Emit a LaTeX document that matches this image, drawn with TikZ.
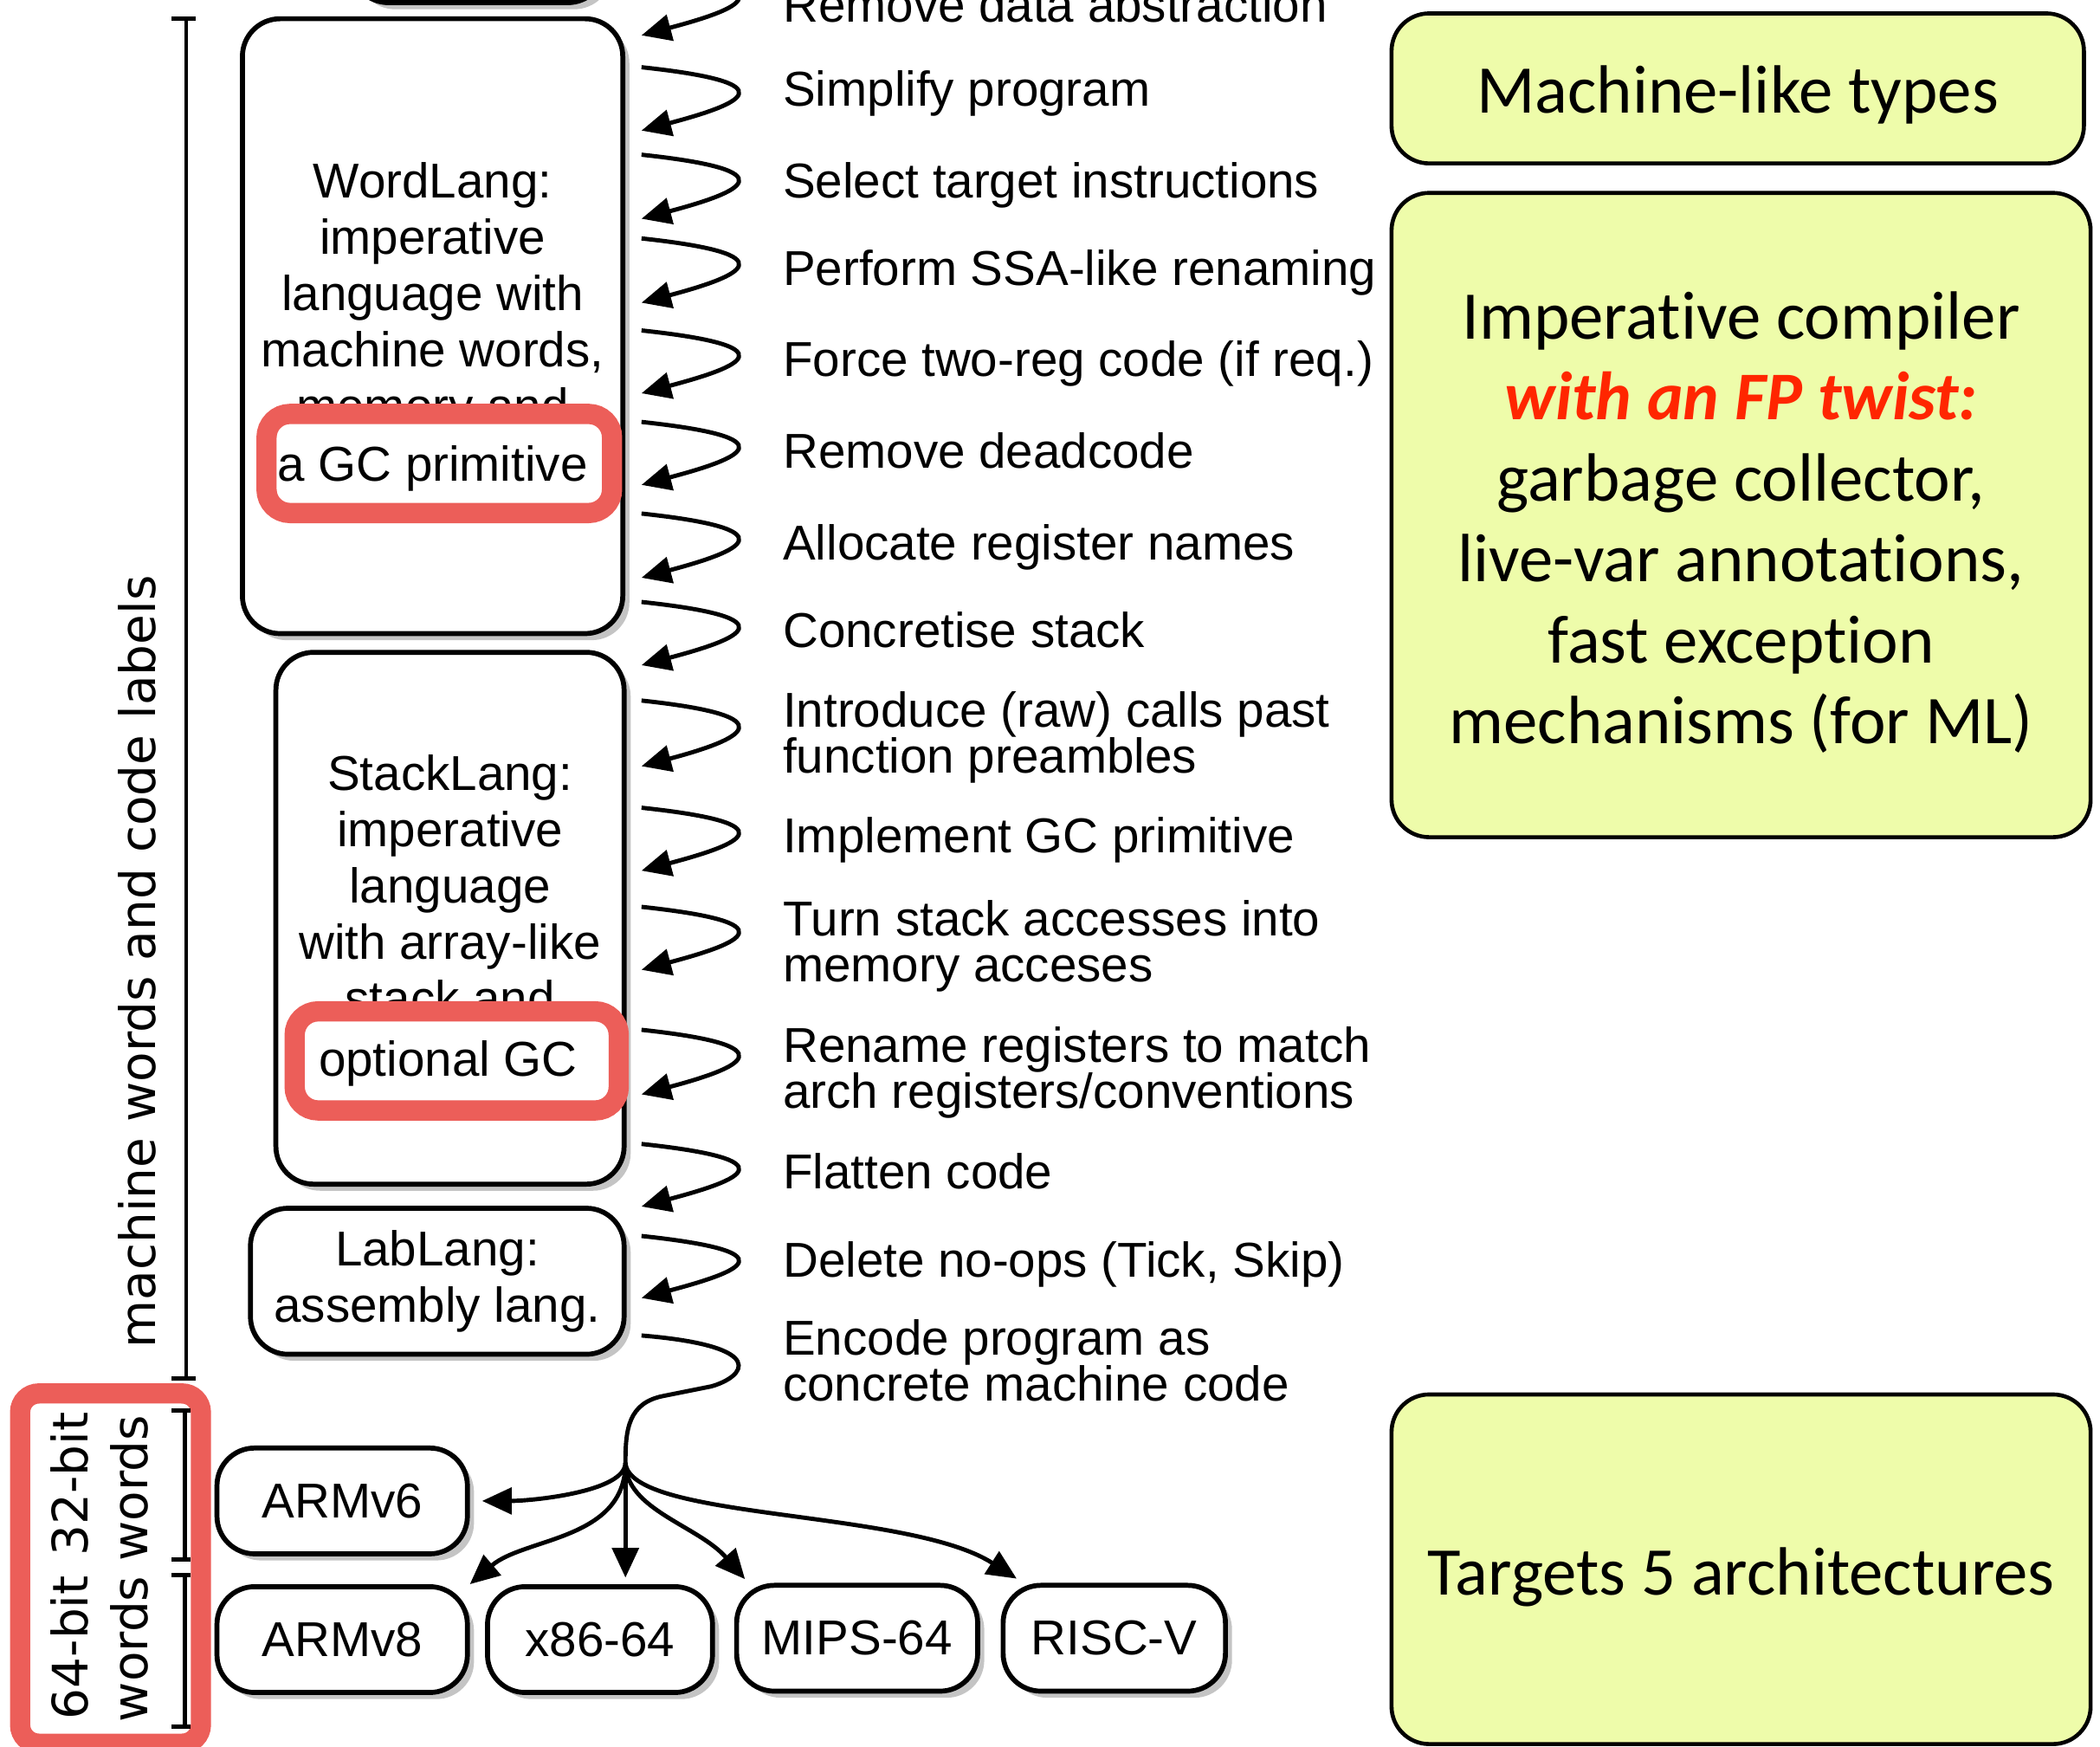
\documentclass[tikz,border=0pt]{standalone}
\usepackage{fontspec}
\setmainfont{Liberation Sans}
\newfontfamily\notefont[Ligatures=NoCommon,RawFeature=-liga]{Carlito}
\newfontfamily\sidefont{DejaVu Sans}
\usetikzlibrary{arrows.meta,shadows}

\definecolor{hilite}{RGB}{236,94,89}
\definecolor{notefill}{RGB}{238,252,170}
\definecolor{twist}{RGB}{255,38,0}
\definecolor{shade}{RGB}{196,196,196}

% two-line pass description, baseline on the first line
\newcommand{\passtwo}[2]{\vtop{\baselineskip=9.76pt\lineskiplimit=-20pt\hbox{#1}\hbox{#2}}}

\begin{document}
\begin{tikzpicture}[x=0.1mm,y=-0.1mm,
  lang/.style={draw,line width=1.05pt,rounded corners=8pt,fill=white,inner sep=0pt,
    align=center,font=\fontsize{10.4}{11.95}\selectfont,
    drop shadow={shadow xshift=1.4pt,shadow yshift=-1.4pt,fill=shade,opacity=1}},
  arch/.style={lang,minimum height=7.9mm},
  hl/.style={draw=hilite,line width=4.3pt,rounded corners=5pt,fill=white,inner sep=0pt},
  boxtext/.style={inner sep=0pt,anchor=base,font=\fontsize{10.4}{11.95}\selectfont},
  note/.style={draw,line width=0.85pt,rounded corners=8pt,fill=notefill,inner sep=0pt},
  notetext/.style={inner sep=0pt,align=center,font=\notefont\fontsize{14.5}{17.2}\selectfont},
  pass/.style={anchor=base west,inner sep=0pt,font=\fontsize{10.4}{9.76}\selectfont},
  side/.style={rotate=90,anchor=base,inner sep=0pt,font=\sidefont\fontsize{10.4}{12.6}\selectfont},
  flow/.style={line width=0.9pt,-{Triangle[length=6.3pt,width=5.6pt]}},
  bracket/.style={line width=0.85pt}]

\useasboundingbox (0,0) rectangle (1568,1304);
\clip (0,0) rectangle (1568,1304);

% intermediate languages
\node[lang,minimum width=19mm,minimum height=8mm] (prevlang) at (357,-38) {};
\node[lang,minimum width=28.4mm,minimum height=45.9mm] (wordlang) at (323,243.5)
  {WordLang:\\imperative\\language with\\machine words,\\memory and\\\phantom{a GC primitive}};
\node[lang,minimum width=26mm,minimum height=39.7mm] (stacklang) at (336,685.5)
  {StackLang:\\imperative\\language\\with array-like\\stack and\\\phantom{optional GC}};
\node[lang,minimum width=27.9mm,minimum height=10.9mm] (lablang) at (326.5,956.5)
  {LabLang:\\assembly lang.};

% highlighted GC features
\node[hl,minimum width=25.8mm,minimum height=7.4mm] (gcbox) at (328,346) {};
\node[boxtext] (gctext) at (323,358.9) {a GC primitive};
\node[hl,minimum width=24.2mm,minimum height=7.4mm] (optbox) at (341,792) {};
\node[boxtext] (opttext) at (334.5,803.4) {optional GC};

% word-size annotations on the left
\node[hl,rounded corners=4pt,minimum width=13.5mm,minimum height=26.15mm] (wsize) at (82.5,1171) {};
\draw[bracket] (128,14) -- (146,14) (139,14) -- (139,1029) (128,1029) -- (146,1029);
\draw[bracket] (128,1053) -- (142,1053) (138,1053) -- (138,1164) (128,1164) -- (142,1164);
\draw[bracket] (128,1176) -- (142,1176) (138,1176) -- (138,1289) (128,1289) -- (142,1289);
\node[side] (mwlabel) at (116,718) {machine words and code labels};
\node[side] (w32a) at (65.7,1108) {32-bit};
\node[side] (w32b) at (110,1111) {words};
\node[side] (w64a) at (65.7,1230) {64-bit};
\node[side] (w64b) at (110,1231) {words};

% target architectures
\node[arch,minimum width=18.7mm] (armv6) at (255.5,1120.5) {ARMv6};
\node[arch,minimum width=18.7mm] (armv8) at (255.5,1224) {ARMv8};
\node[arch,minimum width=16.8mm] (x86) at (448,1224) {x86-64};
\node[arch,minimum width=18mm] (mips) at (640,1223) {MIPS-64};
\node[arch,minimum width=16.6mm] (riscv) at (832,1223) {RISC-V};

% summary notes
\node[note,minimum width=51.7mm,minimum height=11.2mm] (mlbox) at (1297.5,66) {};
\node[notetext,anchor=base] (mltext) at (1297.5,84.5) {Machine-like types};
\node[note,minimum width=52.2mm,minimum height=48.1mm] (impbox) at (1300,384.5) {};
\node[notetext] (imptext) at (1300,390) {Imperative compiler\\
  {\color{twist}\bfseries\itshape with an FP twist:}\\
  garbage collector,\\live-var annotations,\\fast exception\\mechanisms (for ML)};
\node[note,minimum width=52.2mm,minimum height=26.1mm] (tgtbox) at (1300,1171.5) {};
\node[notetext,anchor=base] (tgttext) at (1300,1190.8) {Targets 5 architectures};

% compiler passes
\node[pass] (pass1) at (584,16.5) {Remove data abstraction};
\node[pass] (pass2) at (584,79.2) {Simplify program};
\node[pass] (pass3) at (584,147.5) {Select target instructions};
\node[pass] (pass4) at (584,212.8) {Perform SSA-like renaming};
\node[pass] (pass5) at (584,281) {Force two-reg code (if req.)};
\node[pass] (pass6) at (584,349.7) {Remove deadcode};
\node[pass] (pass7) at (584,418) {Allocate register names};
\node[pass] (pass8) at (584,483.3) {Concretise stack};
\node[pass] (pass9) at (584,542.5) {\passtwo{Introduce (raw) calls past}{function preambles}};
\node[pass] (pass10) at (584,636.3) {Implement GC primitive};
\node[pass] (pass11) at (584,698.4) {\passtwo{Turn stack accesses into}{memory acceses}};
\node[pass] (pass12) at (584,793) {\passtwo{Rename registers to match}{arch registers/conventions}};
\node[pass] (pass13) at (584,887.7) {Flatten code};
\node[pass] (pass14) at (584,953.4) {Delete no-ops (Tick, Skip)};
\node[pass] (pass15) at (584,1011.3) {\passtwo{Encode program as}{concrete machine code}};

% one curly arrow per pass
\foreach \i/\ya/\yb in {1/-21/26.4, 2/50.2/97.5, 3/115.5/163.3, 4/178/226,
    5/246.7/293.6, 6/315/362, 7/383.4/431.3, 8/449.4/496.6, 9/523/572,
    10/603/650, 11/677/724, 12/768.8/817, 13/854/900.7, 14/922.7/969} {
  \coordinate (in\i) at (479,\ya);
  \coordinate (out\i) at (479,\yb);
  \draw[flow] (in\i) .. controls +(112,12) and +(75,-20) .. (out\i);
}

% final pass fans out to the targets
\coordinate (in15) at (479,997);
\coordinate (fork) at (467,1092);
\draw[line width=0.9pt] (in15) .. controls +(97,8) and +(25,-7) .. ++(52,38)
  -- ++(-35,7) .. controls +(-27,5) and +(0,-25) .. (fork);
\draw[flow,shorten >=2.6pt] (fork) .. controls +(0,22) and +(45,0) .. (armv6.east);
\draw[flow] (fork) .. controls +(0,58) and +(41,-35) .. (armv8.north east);
\draw[flow,shorten >=1.4pt] (fork) -- (fork |- x86.north);
\draw[flow] (fork) .. controls +(0,35) and +(-35,-40) .. ([xshift=2.3pt,yshift=0.8pt]mips.north west);
\draw[flow] (fork) .. controls +(3,43) and +(-81,-52) .. ([xshift=3.4pt,yshift=0.9pt]riscv.north west);
\end{tikzpicture}
\end{document}
